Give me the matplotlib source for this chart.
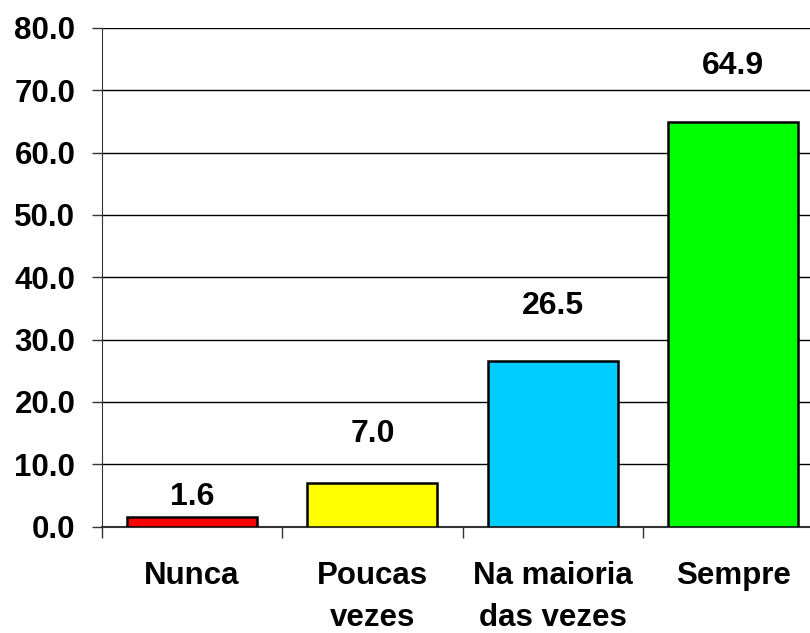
import matplotlib.pyplot as plt
import numpy as np
from matplotlib import rcParams

rcParams.update({'font.family': ['Liberation Sans', 'DejaVu Sans'], 'font.weight': 'bold'})

categories = ["Nunca", "Poucas\nvezes", "Na maioria\ndas vezes", "Sempre"]
values = [1.6, 7.0, 26.5, 64.9]
colors = ["#ff0000", "#ffff00", "#00ccff", "#00ff00"]
# how far above each bar its label sits (points), as in the original
label_lift = [14, 35, 40, 40]
y_ticks = [0, 10, 20, 30, 40, 50, 60, 70, 80]

fig = plt.figure(figsize=(8.1, 6.33), dpi=100)
ax = fig.add_axes([0.1256, 0.168, 0.891, 0.788])

x = np.arange(len(categories))
ax.set_axisbelow(True)
ax.yaxis.grid(True, color='black', linewidth=1.0)
ax.bar(x, values, width=0.72, color=colors, edgecolor='black', linewidth=1.8, zorder=3)

for xi, v, lift in zip(x, values, label_lift):
    ax.annotate("{:.1f}".format(v), (xi, v), xytext=(0, lift), textcoords='offset points',
                ha='center', va='center', fontsize=23, fontweight='bold')

ax.set_xlim(-0.5, 3.5)
ax.set_ylim(0, 80)
ax.set_yticks(y_ticks)
ax.set_yticklabels(["{:.1f}".format(t) for t in y_ticks], fontsize=22.5, fontweight='bold')
ax.tick_params(axis='y', length=7, width=1, pad=12, color='#333333')

ax.set_xticks(x - 0.5, minor=False)
ax.set_xticklabels([])
ax.set_xticks(x, minor=True)
ax.set_xticklabels(categories, minor=True, fontsize=22.5, fontweight='bold', linespacing=1.5)
ax.tick_params(axis='x', which='major', length=8, width=1, color='#333333', direction='out')
ax.tick_params(axis='x', which='minor', length=0, pad=25)

for side in ['top', 'right']:
    ax.spines[side].set_visible(False)
ax.spines['left'].set_color('#333333')
ax.spines['bottom'].set_color('#333333')
ax.spines['bottom'].set_linewidth(1.5)

fig.savefig("out.png", dpi=100)
